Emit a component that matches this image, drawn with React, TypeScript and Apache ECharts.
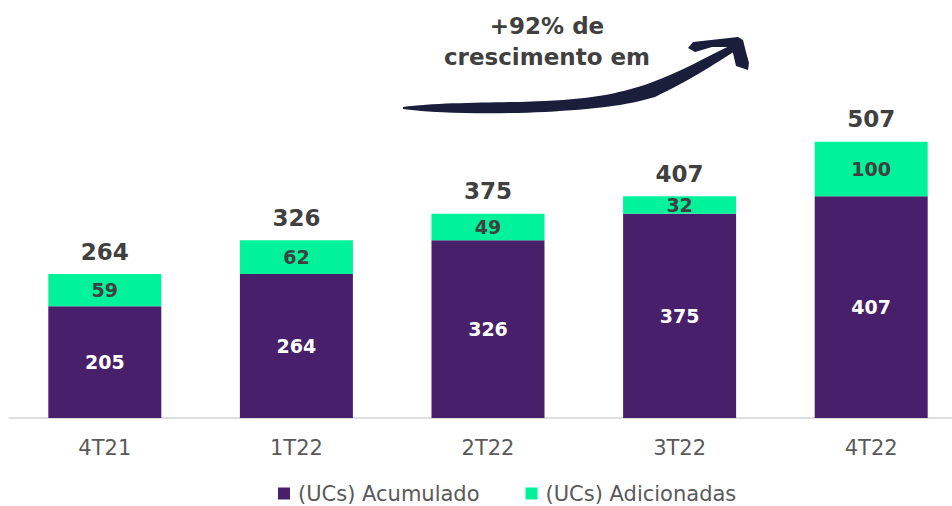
import React, { useEffect, useRef } from "react";
import * as echarts from "echarts";

const categories = ["4T21", "1T22", "2T22", "3T22", "4T22"];
const acumulado = [205, 264, 326, 375, 407];
const adicionadas = [59, 62, 49, 32, 100];
const totals = acumulado.map((v, i) => v + adicionadas[i]);
const seriesNames = ["(UCs) Acumulado", "(UCs) Adicionadas"];
const annotationLines = ["+92% de", "crescimento em"];

const PURPLE = "#481f6a";
const GREEN = "#00f29b";
const DARK = "#404040";
const GRAY = "#595959";
const NAVY = "#1b1e3b";

const shaftPath =
  "M403,107 C440,102 500,103 545,101 C595,99 625,92 650,83 C680,72 705,58 737,42 " +
  "L741,47 C712,66 690,80 655,97 C625,106 595,109 545,112 C500,114 440,114 403,109 Z";

let registered = false;
function registerShapes() {
  if (registered) return;
  registered = true;
  echarts.graphic.registerShape("arrowShaft", echarts.graphic.extendPath(shaftPath, {}));
}

export default function App() {
  const ref = useRef<HTMLDivElement>(null);
  useEffect(() => {
    document.body.style.overflow = "hidden";
    registerShapes();
    const chart = echarts.init(ref.current!, null, { renderer: "svg" });
    chart.setOption({
      animation: false,
      textStyle: { fontFamily: "DejaVu Sans" },
      grid: { left: 9, right: 1, top: 91, bottom: 88 },
      legend: {
        data: seriesNames,
        left: 273,
        top: 478,
        icon: "rect",
        itemWidth: 12,
        itemHeight: 12,
        itemGap: 46,
        textStyle: {
          fontSize: 21,
          color: GRAY,
          fontFamily: "DejaVu Sans",
          padding: [0, 0, 0, 3],
        },
      },
      xAxis: {
        type: "category",
        data: categories,
        axisTick: { show: false },
        axisLine: { lineStyle: { color: "#d4d4d4", width: 1.5 } },
        axisLabel: { fontSize: 21, color: GRAY, margin: 19, fontFamily: "DejaVu Sans" },
      },
      yAxis: { type: "value", min: 0, max: 600, show: false, splitLine: { show: false } },
      series: [
        {
          name: seriesNames[0],
          type: "bar",
          stack: "a",
          barWidth: 113,
          data: acumulado,
          itemStyle: { color: PURPLE },
          label: {
            show: true,
            position: "inside",
            color: "#ffffff",
            fontSize: 19,
            fontWeight: "bold",
            fontFamily: "DejaVu Sans",
          },
        },
        {
          name: seriesNames[1],
          type: "bar",
          stack: "a",
          barWidth: 113,
          data: adicionadas,
          itemStyle: { color: GREEN },
          label: {
            show: true,
            position: "inside",
            color: DARK,
            fontSize: 19,
            fontWeight: "bold",
            fontFamily: "DejaVu Sans",
          },
        },
        {
          name: "Total",
          type: "scatter",
          data: totals,
          symbolSize: 0,
          silent: true,
          itemStyle: { opacity: 1, color: DARK },
          label: {
            show: true,
            position: "top",
            distance: 11,
            color: DARK,
            fontSize: 23,
            fontWeight: "bold",
            fontFamily: "DejaVu Sans",
          },
        },
      ],
      graphic: [
        {
          type: "text",
          x: 547,
          y: 26,
          style: {
            text: annotationLines[0],
            textAlign: "center",
            textVerticalAlign: "middle",
            fill: DARK,
            font: "bold 23px 'DejaVu Sans'",
          },
        },
        {
          type: "text",
          x: 547,
          y: 57,
          style: {
            text: annotationLines[1],
            textAlign: "center",
            textVerticalAlign: "middle",
            fill: DARK,
            font: "bold 23px 'DejaVu Sans'",
          },
        },
        {
          type: "arrowShaft",
          x: 0,
          y: 0,
          shape: {},
          style: { fill: NAVY },
        },
        {
          type: "polygon",
          shape: {
            points: [
              [688, 48], [693, 42], [738, 37], [743, 40], [746, 52], [749, 63],
              [748, 70], [736, 66], [733, 53], [731, 47], [712, 47], [695, 52],
            ],
          },
          style: { fill: NAVY },
        },
      ],
    });
    return () => chart.dispose();
  }, []);
  return (
    <div
      ref={ref}
      style={{ position: "absolute", left: 0, top: 0, width: 968, height: 506 }}
    />
  );
}
